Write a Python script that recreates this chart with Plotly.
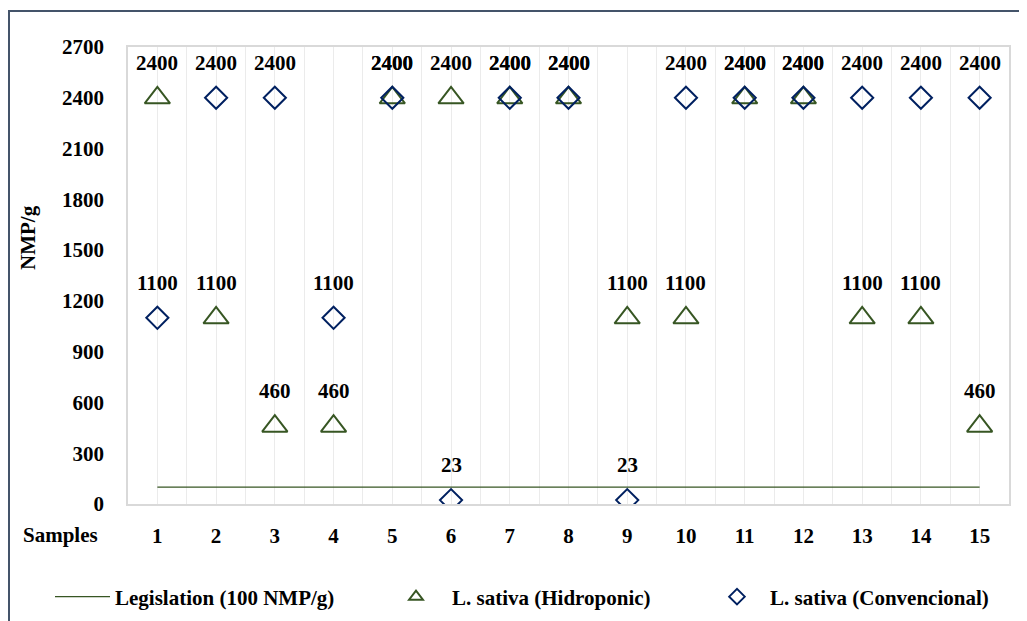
import plotly.graph_objects as go

samples = list(range(1, 16))
hidroponic = [2400, 1100, 460, 460, 2400, 2400, 2400, 2400, 1100, 1100, 2400, 2400, 1100, 1100, 460]
convencional = [1100, 2400, 2400, 1100, 2400, 23, 2400, 2400, 23, 2400, 2400, 2400, 2400, 2400, 2400]
legislation = [100, 100, 100, 100, 100, 100, 100, 100, 100, 100, 100, 100, 100, 100, 100]
y_ticks = [0, 300, 600, 900, 1200, 1500, 1800, 2100, 2400, 2700]

FONT = "Liberation Serif"
FS = 21
GREEN = "#375623"
BLUE = "#002060"

# plot area on screen (reference pixels); page body adds an 8px offset
PL, PR, PT, PB = 128, 1009, 47, 504
OFF = 8
W, H = 1027, 621
PW, PH = PR - PL, PB - PT


def px(x):
    return (x - PL) / PW


def py(y):
    return (PB - y) / PH


bold = dict(family=FONT, size=FS, color="black", weight="bold")

fig = go.Figure()
fig.add_trace(go.Scatter(
    x=samples, y=legislation, mode="lines", name="Legislation (100 NMP/g)",
    line=dict(color=GREEN, width=1.3), legend="legend",
))
fig.add_trace(go.Scatter(
    x=samples, y=hidroponic, mode="markers", name="L. sativa (Hidroponic)",
    marker=dict(symbol="triangle-up-open", size=22, color=GREEN, line=dict(width=2, color=GREEN)),
    legend="legend2",
))
fig.add_trace(go.Scatter(
    x=samples, y=convencional, mode="markers", name="L. sativa (Convencional)",
    marker=dict(symbol="diamond-open", size=17, color=BLUE, line=dict(width=2, color=BLUE)),
    legend="legend3",
))

annotations = []
for series in (hidroponic, convencional):
    for xv, yv in zip(samples, series):
        annotations.append(dict(
            x=xv, y=yv, xref="x", yref="y", text=str(yv), showarrow=False,
            yshift=35, yanchor="middle", font=bold,
        ))
annotations.append(dict(
    x=px(60), y=py(535), xref="paper", yref="paper", text="Samples", showarrow=False,
    xanchor="center", yanchor="middle", font=bold,
))
annotations.append(dict(
    x=px(28), y=py(238), xref="paper", yref="paper", text="NMP/g", showarrow=False,
    textangle=-90, xanchor="center", yanchor="middle", font=bold,
))

leg_common = dict(
    orientation="h", yanchor="middle", y=py(597), xanchor="left",
    font=bold, bgcolor="rgba(0,0,0,0)",
)

fig.update_layout(
    width=W, height=H,
    margin=dict(l=PL - OFF, r=W - (PR - OFF), t=PT - OFF, b=H - (PB - OFF)),
    paper_bgcolor="white", plot_bgcolor="white",
    font=bold,
    annotations=annotations,
    showlegend=True,
    legend=dict(x=px(50), itemwidth=55, itemsizing="trace", **leg_common),
    legend2=dict(x=px(380), itemwidth=62, itemsizing="constant", **leg_common),
    legend3=dict(x=px(704), itemwidth=56, itemsizing="constant", **leg_common),
    shapes=[dict(
        type="rect", xref="paper", yref="paper",
        x0=px(9), x1=px(1100), y0=py(700), y1=py(11),
        line=dict(color="#44546A", width=2), layer="below",
    )],
)
fig.update_xaxes(
    range=[0.5, 15.5], tickvals=samples, ticktext=[str(s) for s in samples],
    showgrid=True, gridcolor="#ebebeb", gridwidth=1,
    minor=dict(tick0=0.5, dtick=1, showgrid=True, gridcolor="#ebebeb", gridwidth=1),
    showline=True, linecolor="#d9d9d9", linewidth=2, mirror=True,
    ticks="", ticklabelstandoff=12, zeroline=False, automargin=False,
)
fig.update_yaxes(
    range=[0, 2700], tickvals=y_ticks, showgrid=False, zeroline=False,
    showline=True, linecolor="#d9d9d9", linewidth=1.5, mirror=True,
    ticks="", ticklabelstandoff=18, automargin=False,
)

fig.write_html("out.html")
